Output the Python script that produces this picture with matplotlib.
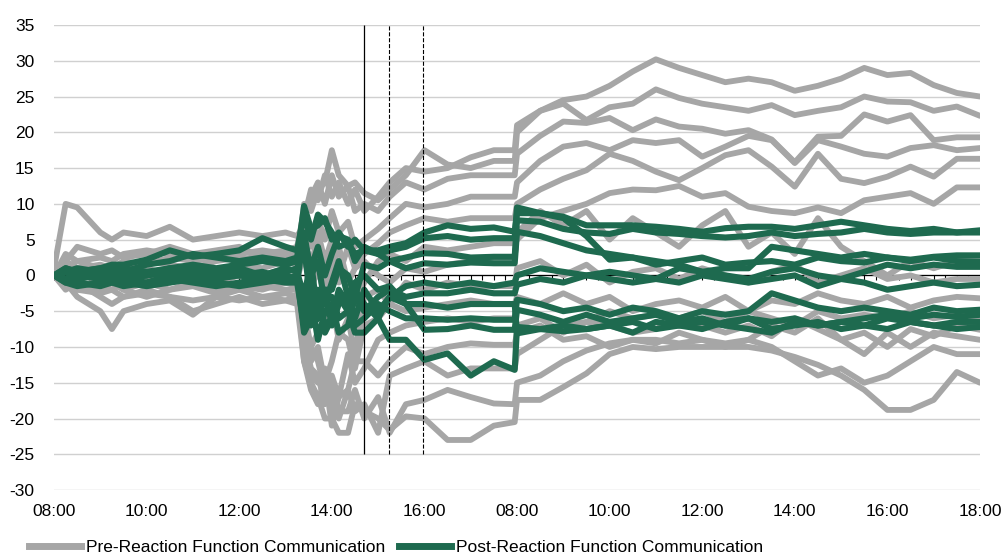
import numpy as np
import matplotlib
matplotlib.use('Agg')
import matplotlib.pyplot as plt
from matplotlib.lines import Line2D

plt.rcParams['font.family'] = ['Liberation Sans', 'DejaVu Sans']
plt.rcParams['axes.unicode_minus'] = False

# hours since 08:00 on day 1; day 2 opens at 10 on this axis
hours = [0, 0.25, 0.5, 1, 1.25, 1.5, 2, 2.5, 3, 3.5, 4, 4.5, 5, 5.25,
         5.4, 5.55, 5.7, 5.85, 6, 6.15, 6.35, 6.5, 6.7,
         7, 7.25, 7.6, 8, 8.5, 9, 9.5, 9.95,
         10, 10.5, 11, 11.5, 12, 12.5, 13, 13.5, 14, 14.5, 15, 15.5, 16, 16.5, 17, 17.5,
         18, 18.5, 19, 19.5, 20]

tick_hours = [0, 2, 4, 6, 8, 10, 12, 14, 16, 18, 20]
tick_labels = ['08:00', '10:00', '12:00', '14:00', '16:00', '08:00',
               '10:00', '12:00', '14:00', '16:00', '18:00']

# communication times (solid = first, dashed = follow-ups)
event_hours = [6.70, 7.24, 7.97]
event_styles = ['-', '--', '--']

# pre-reaction function communication
pre_1 = [0.5, 2, 1, 1.5, 1, 2, 1.5, 2.5, 2, 2.5, 3, 3.5, 3, 3.5,
         8, 12, 10.5, 14, 11, 13, 10, 12, 9,
         11, 13, 15, 14.5, 15, 16.5, 17.5, 17.5,
         21, 23, 24.5, 25, 26.5, 28.5, 30.2, 29, 28, 27, 27.5, 27, 25.8, 26.5, 27.5, 29, 28, 28.3, 26.6, 25.5, 25]
pre_2 = [0, -1, 0.5, 1, 0, 1, 2, 1.5, 1, 2, 2.5, 2, 2.5, 2,
         10, 9, 12, 13, 17.5, 14, 12.5, 13, 11.5,
         10.5, 12, 14, 17.5, 15.5, 15, 16, 16,
         20, 23, 24, 21.7, 23.5, 24, 26, 24.8, 24, 23.5, 23, 23.8, 22.4, 23, 23.5, 25, 24.3, 24.2, 23, 23.6, 22.3]
pre_3 = [0, 3, 2, 2.5, 2, 3, 3.5, 3, 2.5, 3, 2, 3, 3.5, 4,
         9, 11, 13, 10, 14, 11, 12.5, 9, 10,
         9, 11, 13, 12, 13.5, 14, 14, 14,
         17, 19.5, 21.5, 21.3, 22, 20.3, 21.8, 20.8, 20.5, 19.8, 20.3, 19, 15.8, 19.4, 19.5, 22.5, 21.5, 22.4, 18.9, 19.3, 19.3]
pre_4 = [1, 10, 9.5, 6, 5, 6, 5.5, 6.8, 5, 5.5, 6, 5.5, 6, 5.5,
         7, 4, 8, 5, 9, 6, 7.5, 4, 5,
         6.5, 8, 10, 9.5, 10, 11, 11, 11,
         13, 16, 18, 18.5, 17.5, 18.9, 18.5, 18.9, 16.6, 18, 19.5, 18.9, 15.7, 18.9, 18, 17, 16.6, 17.8, 18.2, 17.5, 17.8]
pre_5 = [0, 1, 2, 1, 1.5, 0.5, 1, 0, 1, 0.5, 1.5, 1, 2, 1.5,
         4, 1, 6, 2, 5, 0, 4, 1, 3,
         4.5, 6, 7, 8, 7.5, 8, 8, 8,
         10, 12, 13.5, 14.7, 17, 16, 14.5, 13.3, 15, 16.8, 17.5, 15.2, 12.4, 17, 13.5, 12.9, 13.8, 15.2, 13.8, 16.3, 16.3]
pre_6 = [0, -1, -2, -1.5, -2, -1, -1.5, -1, 0, -0.5, 0, -1, 0, -0.5,
         3, -2, 1, -3, 2, -1, 0, -4, -1,
         2, 3, 2, 4, 3.5, 4, 4.5, 4.5,
         5, 8, 9, 10, 11.5, 12, 11.9, 12.5, 11, 11.5, 9.6, 9, 8.7, 9.5, 8.7, 10.5, 11, 11.5, 10, 12.3, 12.3]
pre_7 = [0, 2, 4, 3, 3.5, 2.5, 3, 4, 3, 3.5, 4, 2.5, 3, 3,
         5, 2, 3, -2, 1, 4, -1, 1, 2,
         0, -1, 1, 0.5, 1.5, 2, 2.5, 2.5,
         6, 9, 7, 9, 5, 8, 6, 4, 7, 9, 4, 6, 3, 8, 4, 2, 0, 2, 1, 2, 2]
pre_8 = [0, -2, -1, -3, -4, -3, -2.5, -3, -3.5, -3, -2, -3, -2.5, -3,
         -5, -10, -8, -6, -4, -9, -6, -11, -3,
         -2, -4, -1, -2, -1, -1.5, -1.5, -1.5,
         1, 2, 0, 1.5, -1, 0.5, 1, -0.5, 1, 0, -1, 0.5, 1.5, -1, 0, 1, -0.5, 0, -1, -0.5, -0.5]
pre_9 = [0, -1, -3, -5, -7.5, -5, -4, -3.5, -5.5, -3, -3.5, -3, -3.5, -3,
         -6, -12, -10, -15, -12, -8, -9, -13, -7,
         -6, -4, -5, -4.5, -4, -3.5, -4, -4,
         -3, -4, -2.5, -4, -3, -5, -4, -3.5, -4.5, -3, -5, -3.5, -4, -2.5, -3.5, -4, -3, -4.5, -3.5, -3, -3.2]
pre_10 = [0, 1, -1, -2, -1, -2, -3, -2, -1, -2, -1.5, -2, -1, -1.5,
          -8, -10, -12, -16, -14, -17, -11, -15, -13,
          -9, -8, -7, -6.5, -6, -6.5, -6, -6,
          -7, -6, -8, -6.5, -7, -8, -7.5, -6, -7, -8, -7, -8.5, -6, -7.5, -9, -8, -10, -7.5, -8.5, -7, -7.6]
pre_11 = [0, 0.5, 1, 0, 0.5, 0, -0.5, 0.5, -1, 0, 0.5, 0, 1, 0.5,
          -10, -14, -15, -13, -18, -20, -16, -12, -12,
          -14, -12, -10, -11, -10, -9.5, -9.7, -9.7,
          -8, -7, -9, -8.5, -10, -9, -9.5, -8, -9, -10, -9, -7, -8, -6, -9, -11, -8, -10, -8, -8.5, -9]
pre_12 = [0, -0.5, -1, -1.5, -1, -2, -1, -2, -1.5, -2.5, -2, -1.5, -2, -2,
          -12, -16, -18, -14, -21, -17, -16, -19, -18,
          -22, -14, -13, -12, -14, -13, -13, -13,
          -11, -9, -7, -6.5, -5, -6, -5.5, -6, -5, -6.5, -5, -6, -7, -5, -6, -5.5, -6, -5, -6, -5.5, -6]
pre_13 = [0, 1, 0.5, -1, -0.5, -1, 0, -1, -0.5, -1, 0, -0.5, -1, -0.5,
          -9, -13, -14, -18, -15, -19, -19, -16, -20,
          -17, -22, -18, -17.4, -16, -17, -17.9, -18,
          -15, -14, -12, -10.5, -9.5, -9, -9, -9.5, -9, -9.5, -9, -10, -12, -14, -13, -15, -14, -12, -10, -11, -11]
pre_14 = [0, -1, -2, -2.5, -2, -3, -2, -3, -5, -4, -3, -4, -3.5, -4,
          -12, -15, -17, -20, -20, -22, -22, -18, -19,
          -20, -21.6, -19.7, -20, -23, -23, -21, -20.5,
          -17.4, -17.4, -15.6, -13.7, -11, -10, -10.3, -10, -10, -10, -10, -10.5, -11.4, -12.5, -14, -16, -18.8, -18.8, -17.4, -13.5, -15]

# post-reaction function communication
post_1 = [0, 0.5, 1, 0.5, 1, 0.5, 1.5, 2, 3, 2.5, 2, 2.5, 2, 2.5,
          9.7, 6.5, 7, 8, 5, 6, 4, 5, 3.5,
          3.5, 4, 4.5, 6, 7, 6.5, 6.7, 6.1,
          8.7, 8.7, 8.2, 7, 7, 7, 6.8, 6.5, 6.1, 6.6, 6.8, 6.8, 6.5, 7, 7.5, 7, 6.5, 6.2, 6.5, 6, 6.3]
post_2 = [0, -0.5, 0.5, 1, 1.5, 1.5, 2.2, 3.5, 2.6, 3, 3.5, 5.2, 4, 3.5,
          8.5, 5, 8.5, 7.5, 6, 4, 4.5, 3, 3.5,
          3, 3.5, 4, 5.2, 5.5, 5, 5.2, 5.2,
          9.5, 8.7, 8, 5.5, 2.2, 2.5, 1.5, 2, 2.5, 1.5, 1.8, 2, 1.5, 2.5, 2, 1.8, 2.5, 2.2, 2.6, 2.8, 2.8]
post_3 = [0, 1, 0.5, 0, 0.5, 1, 0.5, 1, 1.5, 1, 1.5, 2, 1.5, 2,
          5, 1, 4, 0, 3, 5.5, 5, 2, 4,
          3, 2, 2.5, 3.1, 3, 2.5, 2.6, 2.6,
          7.7, 7.5, 6.5, 6, 5.8, 6.5, 6, 5.8, 5.5, 5.3, 5.5, 6, 5.5, 5.8, 6, 6.5, 6, 5.8, 6, 6, 6]
post_4 = [0, -1, -0.5, 0.5, 0, -0.5, 0, 1, 0.5, 0, 0.5, 0, 1, 0.5,
          -3, 2, -6, -2, -2, 1, 0, -3, 1.5,
          1, 2, 1, 1.7, 1.5, 1.8, 1.7, 1.7,
          6.1, 5.5, 4.5, 3.5, 3, 2.5, 2, 1.5, 0.5, 1, 1, 4, 3.5, 3, 2.5, 3, 2.5, 2, 2.5, 2, 1.9]
post_5 = [0, 0.5, -0.5, 0, -1, -0.5, -1, 0, -0.5, 0.5, 0, -0.5, 0, -0.5,
          -5, -1, -3, -7, -6, -2, -4, -6, -2,
          -5, -3, -1.5, -1, -1.5, -1, -1.5, -1,
          0, 1, 0.5, 0, 0.5, 0, -0.5, 1, 0.5, 0, -0.5, 0.5, 1, 0, -0.5, 0.5, 1.5, 1, 1.5, 1.2, 1.2]
post_6 = [0, -0.5, -1, -1.5, -1, -1.5, -1, -0.5, -1, -1.5, -1, -0.5, -1, -1,
          -7, -3, -9, -5, -4, -8, -7, -3, -5,
          -3, -2, -3, -2.5, -2.5, -2, -2.5, -2.5,
          -1.3, -0.5, -1, 0, -0.5, -1, -0.5, -1, 0, -0.5, -1, -0.5, 0, -1.5, -0.5, -1, -2, -1.5, -1, -1.5, -1.3]
post_7 = [0, 0.5, 0, -0.5, 0.5, 0, 0.5, -0.5, 0, -0.5, 0, 0.5, -0.5, 0,
          -8, -6, -5, -2, -7, -4, -3, -7, -6,
          -4, -5, -6, -6, -6.2, -6, -6.2, -6.2,
          -3.4, -4, -5, -4.5, -5.5, -4.5, -5, -6, -5, -5.5, -5, -2.5, -3.5, -4.5, -5, -4.5, -5, -5.5, -4.5, -5, -4.8]
post_8 = [0, 1, 0.5, 1, 0.5, 1, 0, 0.5, 1, 0.5, 1, 0, 0.5, 1,
          4, -4, -2, -8, -6, -3, -5, -8, -8,
          -6, -3, -4, -7.6, -7.5, -7, -7.6, -7.6,
          -4.8, -5.5, -6.5, -5.5, -6.5, -6, -5.5, -6.5, -6, -7, -6, -6.5, -6, -7, -6.5, -6, -5.5, -6, -5.5, -5.8, -5.5]
post_9 = [0, -0.5, 0, 0.5, 0, -0.5, 0, 0.5, 0, -0.5, 0.5, 0, 0, -0.5,
          -2, -7, -6, -3, -3, -6, -5, -2, -4,
          -6, -9, -9, -11.8, -10.9, -14, -12, -13.2,
          -7.2, -7.5, -7.8, -7.5, -7, -8, -6.5, -7, -6.5, -7, -7.5, -8, -6.5, -7, -6.5, -7, -6, -6.5, -7, -6.5, -6.5]
post_10 = [0, -1, -1.5, -1, -0.5, -1, -1.5, -1, -0.5, -1, -1.5, -1, -0.5, -1,
           6, 0, 2, -4, -1, 2, -3, -1, 0,
           -2, -1.5, -4, -4, -4.5, -4, -4, -4,
           -8.1, -7.5, -7, -7.5, -7, -6.5, -7.5, -7, -7.5, -6.5, -6, -7.5, -7, -6.5, -7.5, -7, -7.5, -6.5, -7, -7.5, -7.2]

pre_lines = [pre_1, pre_2, pre_3, pre_4, pre_5, pre_6, pre_7,
             pre_8, pre_9, pre_10, pre_11, pre_12, pre_13, pre_14]
post_lines = [post_1, post_2, post_3, post_4, post_5, post_6, post_7, post_8, post_9, post_10]

GREY = '#A6A6A6'
GREEN = '#1E6A4F'

fig = plt.figure(figsize=(10.01, 5.55), dpi=100)
ax = fig.add_axes([0.054, 0.117, 0.925, 0.838])

for v in range(-30, 36, 5):
    ax.axhline(v, color='#D0D0D0', lw=1, zorder=0)

# zero axis with small ticks
ax.axhline(0, color='black', lw=0.9, zorder=1)
ax.vlines(np.arange(0, 20.01, 0.25), -0.7, 0, color='black', lw=0.8, zorder=1)

for s in pre_lines:
    ax.plot(hours, s, color=GREY, lw=4.2, solid_joinstyle='round', solid_capstyle='round', zorder=2)
for s in post_lines:
    ax.plot(hours, s, color=GREEN, lw=4.4, solid_joinstyle='round', solid_capstyle='round', zorder=3)

for h, ls in zip(event_hours, event_styles):
    ax.vlines(h, -25, 35, color='black', lw=0.9 if ls == '-' else 0.8, linestyles=ls, zorder=4)

ax.set_xlim(0, 20)
ax.set_ylim(-30, 35)
ax.set_yticks(range(-30, 36, 5))
ax.set_xticks(tick_hours)
ax.set_xticklabels(tick_labels)
ax.tick_params(axis='both', length=0, labelsize=12.5)
ax.tick_params(axis='y', pad=14)
ax.tick_params(axis='x', pad=10)
for sp in ax.spines.values():
    sp.set_visible(False)

handles = [Line2D([], [], color=GREY, lw=5), Line2D([], [], color=GREEN, lw=5)]
fig.legend(handles, ['Pre-Reaction Function Communication', 'Post-Reaction Function Communication'],
           loc='center left', bbox_to_anchor=(0.02, 0.014), ncol=2, frameon=False,
           fontsize=12.5, handlelength=3.0, handletextpad=0.3, columnspacing=0.8, borderpad=0)

fig.savefig('out.png', dpi=100)
